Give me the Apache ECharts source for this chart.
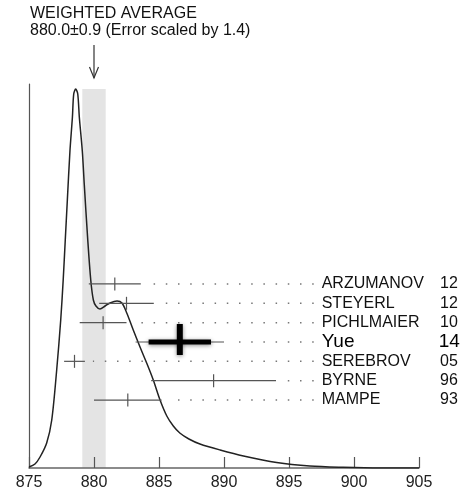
<!DOCTYPE html>
<html>
<head>
<meta charset="utf-8">
<script src="https://cdn.jsdelivr.net/npm/echarts@6/dist/echarts.min.js"></script>
<style>
  html, body { margin: 0; padding: 0; background: #fff; }
  #chart { width: 461px; height: 496px; }
</style>
</head>
<body>
<div id="chart"></div>
<script>
// Ideogram values
const xTicks = [875, 880, 885, 890, 895, 900, 905];

const curveX = [875.0, 875.46, 875.85, 876.36, 876.75, 877.13, 877.44, 877.63, 877.79, 877.95, 878.15, 878.34, 878.44, 878.59,
  878.75, 878.87, 879.1, 879.25, 879.52, 879.75, 879.95, 880.15, 880.46, 880.85, 881.23, 881.77, 882.15, 882.52,
  883.02, 883.54, 884.05, 884.56, 885.08, 885.6, 886.1, 886.6, 887.3, 888.15, 889.7, 891.5, 894.05, 896.6, 899.15, 902.0, 905.0];
const curveH = [1, 4, 11, 25, 48, 98, 148, 188, 228, 268, 317, 351, 374, 379,
  374, 351, 317, 284, 228, 188, 168, 162, 159, 162, 165, 167, 165, 155,
  138, 121, 105, 88, 68, 52, 42, 35, 29, 24, 18, 12, 5.5, 2, 0.7, 0, 0];

const names = ['ARZUMANOV', 'STEYERL', 'PICHLMAIER', 'Yue', 'SEREBROV', 'BYRNE', 'MAMPE'];
const years = ['12', '12', '10', '14', '05', '96', '93'];
const values = [881.6, 882.5, 880.7, 886.6, 878.5, 889.2, 882.6];
const errors = [2.0, 2.1, 1.8, 3.4, 0.8, 4.8, 2.6];
const highlightRow = 3;
const highlightErr = 2.4;

const avgValue = 880.0;
const avgError = 0.9;
const avgTitle = 'WEIGHTED AVERAGE';
const avgText = '880.0±0.9 (Error scaled by 1.4)';

const FONT = '"Liberation Sans", Arial, Helvetica, sans-serif';
const LABEL_MARGIN = -97.3;

const chart = echarts.init(document.getElementById('chart'));

function renderBand(params, api) {
  const v = api.value(0), e = api.value(1), top = api.value(2);
  const a = api.coord([v - e, top]);
  const b = api.coord([v + e, 0]);
  return {
    type: 'rect',
    shape: { x: a[0], y: a[1], width: b[0] - a[0], height: b[1] - a[1] },
    style: { fill: '#e4e4e4' }
  };
}

function renderBar(params, api) {
  const row = api.value(0);
  const v = api.value(1);
  const e = api.value(2);
  const cs = params.coordSys;
  const [cx, cy] = api.coord([v, row]);
  const lo = api.coord([v - e, row])[0];
  const hi = api.coord([v + e, row])[0];
  const dotEnd = cs.x + cs.width + LABEL_MARGIN - 8;
  const grey = '#555';
  const children = [
    { type: 'line', shape: { x1: dotEnd, y1: cy, x2: hi + 8, y2: cy },
      style: { stroke: '#777', lineWidth: 1.5, lineDash: [1.5, 10.7] } },
    { type: 'line', shape: { x1: lo, y1: cy, x2: hi, y2: cy },
      style: { stroke: grey, lineWidth: 1.2 } }
  ];
  if (row === highlightRow) {
    const blo = api.coord([v - highlightErr, row])[0];
    const bhi = api.coord([v + highlightErr, row])[0];
    const shadow = { shadowBlur: 4, shadowColor: 'rgba(0,0,0,0.45)', shadowOffsetY: 1 };
    children.push({ type: 'line', shape: { x1: blo, y1: cy, x2: bhi, y2: cy },
      style: Object.assign({ stroke: '#000', lineWidth: 5 }, shadow) });
    children.push({ type: 'line', shape: { x1: cx, y1: cy - 18, x2: cx, y2: cy + 13 },
      style: Object.assign({ stroke: '#000', lineWidth: 6 }, shadow) });
  } else {
    children.push({ type: 'line', shape: { x1: cx, y1: cy - 6.5, x2: cx, y2: cy + 6.5 },
      style: { stroke: grey, lineWidth: 1.2 } });
  }
  return { type: 'group', children };
}

chart.setOption({
  animation: false,
  textStyle: { fontFamily: FONT },
  grid: [
    { left: 29, right: 42, top: 84, bottom: 28, outerBoundsMode: 'none' },
    { left: 29, right: 42, top: 274.3, height: 135.4, outerBoundsMode: 'none' }
  ],
  xAxis: [
    {
      gridIndex: 0, type: 'value',
      min: xTicks[0], max: xTicks[xTicks.length - 1], interval: xTicks[1] - xTicks[0],
      splitLine: { show: false },
      axisLine: { lineStyle: { color: '#666', width: 1.5 } },
      axisTick: { inside: true, length: 11, lineStyle: { color: '#555', width: 1.2 } },
      axisLabel: { fontSize: 16, color: '#222', margin: 7, fontFamily: FONT }
    },
    {
      gridIndex: 1, type: 'value', show: false,
      min: xTicks[0], max: xTicks[xTicks.length - 1]
    }
  ],
  yAxis: [
    {
      gridIndex: 0, type: 'value', min: 0, max: 384,
      splitLine: { show: false },
      axisLine: { show: true, lineStyle: { color: '#555', width: 1.2 } },
      axisTick: { show: false },
      axisLabel: { show: false }
    },
    {
      gridIndex: 1, type: 'category', data: names, inverse: true, position: 'right',
      axisLine: { show: false }, axisTick: { show: false }, splitLine: { show: false },
      axisLabel: {
        interval: 0, margin: LABEL_MARGIN, align: 'left',
        formatter: (val, i) => i === highlightRow
          ? `{nb|${val}}{yb|${years[i]}}`
          : `{n|${val}}{y|${years[i]}}`,
        rich: {
          n: { fontSize: 16, color: '#111', width: 118.3, fontFamily: FONT },
          y: { fontSize: 16, color: '#111', fontFamily: FONT },
          nb: { fontSize: 19, color: '#000', width: 117, fontFamily: FONT },
          yb: { fontSize: 19, color: '#000', fontFamily: FONT }
        }
      }
    }
  ],
  series: [
    {
      type: 'custom', xAxisIndex: 0, yAxisIndex: 0, z: 0, silent: true,
      renderItem: renderBand,
      data: [[avgValue, avgError, Math.max(...curveH)]]
    },
    {
      type: 'line', xAxisIndex: 0, yAxisIndex: 0, z: 2,
      data: curveX.map((x, i) => [x, curveH[i]]),
      smooth: 0.3, showSymbol: false,
      lineStyle: { color: '#222', width: 1.5 }
    },
    {
      type: 'custom', xAxisIndex: 1, yAxisIndex: 1, z: 3, silent: true,
      renderItem: renderBar,
      encode: { x: 1, y: 0 },
      data: names.map((n, i) => [i, values[i], errors[i]])
    }
  ]
});

const ax = chart.convertToPixel({ xAxisIndex: 0 }, avgValue);
chart.setOption({
  graphic: [
    { type: 'text', left: 30, top: 6, style: { text: avgTitle, fontSize: 16, fontFamily: FONT, fill: '#111' } },
    { type: 'text', left: 30, top: 23, style: { text: avgText, fontSize: 16, fontFamily: FONT, fill: '#111' } },
    { type: 'line', shape: { x1: ax, y1: 45, x2: ax, y2: 78 }, style: { stroke: '#333', lineWidth: 1.2 } },
    { type: 'polyline', shape: { points: [[ax - 4.5, 67], [ax, 78], [ax + 4.5, 67]] },
      style: { stroke: '#333', lineWidth: 1.2, fill: null } }
  ]
});
</script>
</body>
</html>
